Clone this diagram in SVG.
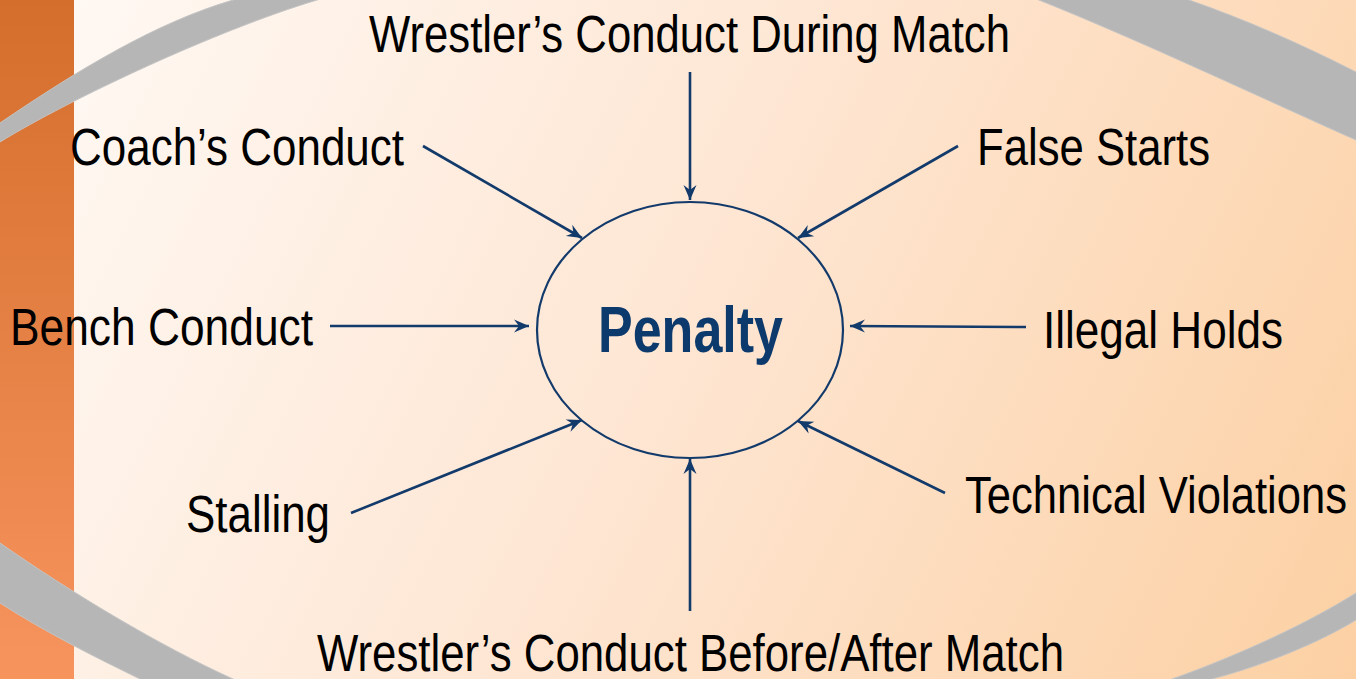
<svg xmlns="http://www.w3.org/2000/svg" width="1356" height="679" viewBox="0 0 1356 679">
  <defs>
    <linearGradient id="bgGrad" x1="0" y1="0" x2="1356" y2="679" gradientUnits="userSpaceOnUse">
      <stop offset="0" stop-color="#FFFAF6"/>
      <stop offset="0.5" stop-color="#FEE6D3"/>
      <stop offset="1" stop-color="#FCD0A3"/>
    </linearGradient>
    <linearGradient id="barGrad" x1="0" y1="0" x2="0" y2="1">
      <stop offset="0" stop-color="#D46E2C"/>
      <stop offset="1" stop-color="#F7945E"/>
    </linearGradient>
    <marker id="arrowHead" markerWidth="18" markerHeight="16" viewBox="-16 -8 18 16" refX="0" refY="0" orient="auto" markerUnits="userSpaceOnUse">
      <path d="M0,0 L-15,-6.5 L-10,0 L-15,6.5 Z" fill="#123A6B"/>
    </marker>
    <style>
      .label { font-family: "Liberation Sans", Arial, sans-serif; font-size: 51px; fill: #000000; }
      .title { font-family: "Liberation Sans", Arial, sans-serif; font-size: 65px; font-weight: bold; fill: #0D3A6C; }
      .conn { stroke: #123A6B; stroke-width: 2.6; fill: none; marker-end: url(#arrowHead); }
      .swoosh { fill: #B6B6B6; stroke: #C4C4C4; stroke-width: 1; }
    </style>
  </defs>

  <!-- background -->
  <rect x="0" y="0" width="1356" height="679" fill="url(#bgGrad)"/>
  <rect x="0" y="0" width="74" height="679" fill="url(#barGrad)"/>

  <!-- grey swoosh ring, drawn as its four visible arcs -->
  <g id="swoosh">
    <path class="swoosh" d="M -10,130 L 0,123 C 78,70 155,23 233,0 L 266,-10 L 350,-10 L 317,0 C 217,30 70,99 0,142 L -10,149 Z"/>
    <path class="swoosh" d="M 1160,-10 L 1189,0 C 1244,19 1301,44 1356,72 L 1366,78 L 1366,147 L 1356,140 C 1266,100 1139,40 1039,0 L 1010,-10 Z"/>
    <path class="swoosh" d="M -10,536 L 0,543 C 70,592 160,646 233,679 L 252,689 L 158,689 L 140,679 C 95,657 45,632 0,603 L -10,597 Z"/>
    <path class="swoosh" d="M 1366,587 L 1356,593 C 1310,622 1240,655 1172,679 L 1150,689 L 1192,689 L 1212,679 C 1265,665 1320,642 1356,620 L 1366,614 Z"/>
  </g>

  <!-- connectors -->
  <g id="connectors">
    <line class="conn" x1="690" y1="72" x2="690" y2="200"/>
    <line class="conn" x1="423" y1="146" x2="582" y2="238"/>
    <line class="conn" x1="958" y1="146" x2="798" y2="238"/>
    <line class="conn" x1="330" y1="326" x2="529" y2="326"/>
    <line class="conn" x1="1026" y1="327" x2="850" y2="326"/>
    <line class="conn" x1="351" y1="513" x2="582" y2="420"/>
    <line class="conn" x1="945" y1="493" x2="798" y2="421"/>
    <line class="conn" x1="690" y1="611" x2="690" y2="459"/>
  </g>

  <!-- central node -->
  <g id="penalty">
    <ellipse cx="690" cy="330" rx="153" ry="128" fill="none" stroke="#123A6B" stroke-width="2.2"/>
    <text class="title" x="598" y="352" textLength="185" lengthAdjust="spacingAndGlyphs">Penalty</text>
  </g>

  <!-- cause labels -->
  <g id="during-match">
    <text class="label" x="369" y="52" textLength="641" lengthAdjust="spacingAndGlyphs">Wrestler’s Conduct During Match</text>
  </g>
  <g id="coach-conduct">
    <text class="label" x="70" y="165" textLength="334" lengthAdjust="spacingAndGlyphs">Coach’s Conduct</text>
  </g>
  <g id="false-starts">
    <text class="label" x="977" y="165" textLength="233" lengthAdjust="spacingAndGlyphs">False Starts</text>
  </g>
  <g id="bench-conduct">
    <text class="label" x="10" y="345" textLength="303" lengthAdjust="spacingAndGlyphs">Bench Conduct</text>
  </g>
  <g id="illegal-holds">
    <text class="label" x="1043" y="348" textLength="240" lengthAdjust="spacingAndGlyphs">Illegal Holds</text>
  </g>
  <g id="stalling">
    <text class="label" x="186" y="532" textLength="144" lengthAdjust="spacingAndGlyphs">Stalling</text>
  </g>
  <g id="technical-violations">
    <text class="label" x="965" y="513" textLength="382" lengthAdjust="spacingAndGlyphs">Technical Violations</text>
  </g>
  <g id="before-after-match">
    <text class="label" x="317" y="671" textLength="747" lengthAdjust="spacingAndGlyphs">Wrestler’s Conduct Before/After Match</text>
  </g>
</svg>
